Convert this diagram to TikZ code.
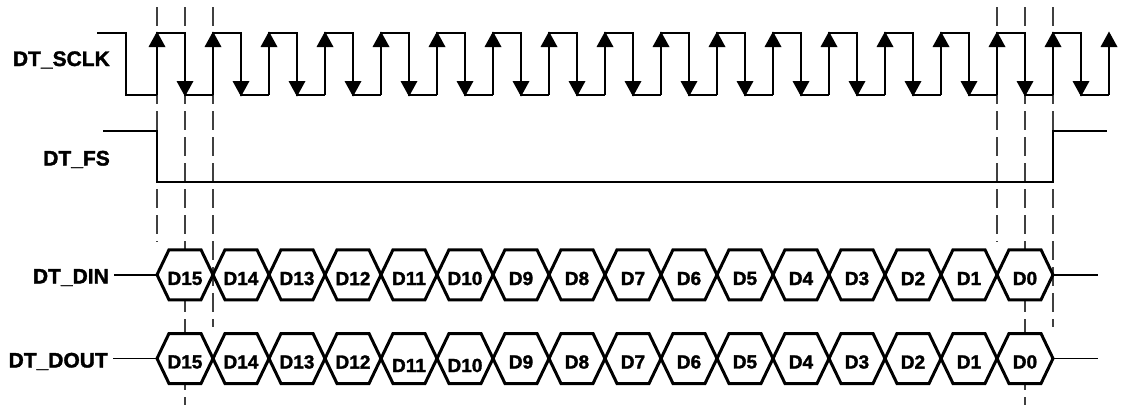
\documentclass[tikz,border=0pt]{standalone}
\usepackage{fontspec}
\setmainfont{Liberation Sans}
\newfontfamily\heavyfont[FakeBold=1.6]{Liberation Sans Bold}
\begin{document}
\begin{tikzpicture}[x=1bp,y=-1bp,
  lbl/.style={font=\fontsize{21bp}{24bp}\selectfont\heavyfont, anchor=base east, inner sep=0pt},
  dat/.style={font=\fontsize{19bp}{22bp}\selectfont\heavyfont, anchor=center, inner sep=0pt},
  sig/.style={line width=1.1bp, line cap=butt},
  guide/.style={line width=1.1bp, dash pattern=on 19bp off 7bp, black!75},
  hexa/.style={line width=3bp, fill=white, line join=miter},
  tri/.style={fill=black}]
\useasboundingbox (0,0) rectangle (1123,405);

% labels
\node[lbl] (sclk) at (110,66) {DT\_SCLK};
\node[lbl] (fs)   at (110,165.5) {DT\_FS};
\node[lbl] (din)  at (109,283.5) {DT\_DIN};
\node[lbl] (dout) at (108,367.5) {DT\_DOUT};

% guide lines
\foreach \x in {157,997} \draw[guide] (\x,7) -- (\x,242);
\foreach \x in {185,1025} \draw[guide] (\x,7) -- (\x,405);
\foreach \x in {213,1053} \draw[guide] (\x,7) -- (\x,327);

% clock
\draw[sig] (97,33) -- (126,33) -- (126,95) -- (157,95);
\foreach \k in {0,...,16}
  \draw[sig] ({157+56*\k},95) -- ++(0,-62) -- ++(28,0) -- ++(0,62) -- ++(28,0);
\draw[sig] (1109,95) -- (1109,33);
\foreach \k in {0,...,17}
  \fill[tri] ({157+56*\k},31.5) -- ++(-8.5,15.5) -- ++(17,0) -- cycle;
\foreach \k in {0,...,16}
  \fill[tri] ({185+56*\k},96.5) -- ++(-8.5,-15.5) -- ++(17,0) -- cycle;

% frame sync
\draw[sig] (103,131) -- (157,131) -- (157,182) -- (1053,182) -- (1053,131) -- (1107,131);

% connectors from labels into the buses
\coordinate (dinL) at (114,275);
\coordinate (dinS) at (157,275);
\coordinate (dinE) at (1053,275);
\coordinate (dinR) at (1098,275);
\coordinate (doutL) at (113,358.5);
\coordinate (doutS) at (157,358.5);
\coordinate (doutE) at (1053,358.5);
\coordinate (doutR) at (1098,358.5);
\draw[sig] (dinL) -- (dinS);
\draw[sig] (dinE) -- (dinR);
\draw[sig] (doutL) -- (doutS);
\draw[sig] (doutE) -- (doutR);

% data buses
\foreach \yc/\row in {274.75/in,358.5/out} {
  \foreach \i in {0,...,15} {
    \pgfmathsetmacro\a{157+56*\i}
    \pgfmathsetmacro\b{\a+56}
    \draw[hexa] (\a,\yc) -- (\a+12,\yc-25) -- (\b-12,\yc-25) -- (\b,\yc)
       -- (\b-12,\yc+25) -- (\a+12,\yc+25) -- cycle;
  }
}
\foreach \i in {0,...,15} {
  \pgfmathsetmacro\c{185+56*\i}
  \pgfmathtruncatemacro\n{15-\i}
  \node[dat] (din\n) at (\c,278.5) {D\n};
}
\foreach \i in {0,...,15} {
  \pgfmathsetmacro\c{185+56*\i}
  \pgfmathtruncatemacro\n{15-\i}
  \pgfmathsetmacro\yy{(\i==4 || \i==5) ? 365.5 : 362}
  \node[dat] (dout\n) at (\c,\yy) {D\n};
}
\end{tikzpicture}
\end{document}
